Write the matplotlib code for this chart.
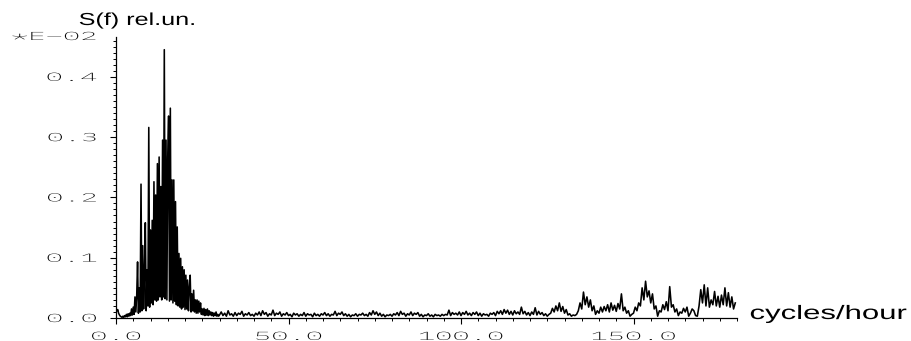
import numpy as np
import matplotlib
matplotlib.use('Agg')
import matplotlib.pyplot as plt
from matplotlib.patheffects import AbstractPathEffect
from matplotlib.transforms import Affine2D
from matplotlib.ticker import MultipleLocator

# Spectrum S(f), in units of 1E-02
# 0 - 30 cycles/hour, step 0.25
f_step_low = 0.25
s_low = [
    0.016, 0.012, 0.014, 0.008, 0.005, 0.003, 0.002, 0.001, 0.003, 0.001,
    0.004, 0.002, 0.006, 0.002, 0.007, 0.003, 0.008, 0.004, 0.015, 0.005,
    0.018, 0.006, 0.035, 0.010, 0.036, 0.093, 0.008, 0.050, 0.010, 0.222,
    0.012, 0.120, 0.015, 0.074, 0.158, 0.012, 0.080, 0.020, 0.316, 0.018,
    0.146, 0.025, 0.162, 0.022, 0.226, 0.030, 0.204, 0.028, 0.256, 0.030,
    0.267, 0.035, 0.218, 0.030, 0.295, 0.035, 0.445, 0.032, 0.295, 0.030,
    0.267, 0.335, 0.028, 0.348, 0.030, 0.229, 0.025, 0.229, 0.028, 0.193,
    0.022, 0.151, 0.020, 0.107, 0.018, 0.099, 0.015, 0.085, 0.018, 0.080,
    0.014, 0.071, 0.015, 0.063, 0.012, 0.050, 0.071, 0.010, 0.040, 0.012,
    0.046, 0.010, 0.030, 0.008, 0.030, 0.008, 0.028, 0.010, 0.025, 0.006,
    0.015, 0.005, 0.016, 0.004, 0.014, 0.005, 0.015, 0.004, 0.012, 0.005,
    0.010, 0.004, 0.009, 0.003, 0.008, 0.004, 0.010, 0.003, 0.006, 0.003,
]
# 30 - 180 cycles/hour, step 0.5
f_start_high = 30.0
f_step_high = 0.5
s_high = [
    0.005, 0.010, 0.004, 0.008, 0.003, 0.012, 0.005, 0.007, 0.003, 0.009,
    0.004, 0.008, 0.006, 0.011, 0.003, 0.007, 0.005, 0.009, 0.004, 0.006,
    0.003, 0.008, 0.005, 0.010, 0.004, 0.012, 0.006, 0.009, 0.003, 0.007,
    0.005, 0.013, 0.004, 0.008, 0.006, 0.010, 0.003, 0.007, 0.005, 0.009,
    0.004, 0.006, 0.002, 0.008, 0.005, 0.007, 0.003, 0.006, 0.004, 0.009,
    0.003, 0.007, 0.005, 0.006, 0.002, 0.008, 0.004, 0.006, 0.003, 0.007,
    0.005, 0.009, 0.004, 0.007, 0.003, 0.006, 0.005, 0.011, 0.004, 0.008,
    0.006, 0.010, 0.004, 0.007, 0.003, 0.006, 0.002, 0.005, 0.004, 0.007,
    0.003, 0.006, 0.005, 0.008, 0.004, 0.006, 0.003, 0.009, 0.005, 0.012,
    0.006, 0.010, 0.004, 0.008, 0.003, 0.006, 0.002, 0.005, 0.004, 0.006,
    0.003, 0.007, 0.005, 0.009, 0.004, 0.011, 0.006, 0.008, 0.003, 0.007,
    0.005, 0.010, 0.004, 0.008, 0.006, 0.009, 0.003, 0.006, 0.002, 0.005,
    0.004, 0.007, 0.003, 0.005, 0.002, 0.006, 0.004, 0.005, 0.003, 0.006,
    0.004, 0.006, 0.005, 0.013, 0.004, 0.009, 0.006, 0.008, 0.005, 0.010,
    0.004, 0.009, 0.006, 0.011, 0.005, 0.008, 0.004, 0.009, 0.006, 0.010,
    0.004, 0.008, 0.003, 0.007, 0.005, 0.006, 0.003, 0.008, 0.006, 0.009,
    0.004, 0.011, 0.007, 0.012, 0.006, 0.014, 0.008, 0.013, 0.006, 0.011,
    0.005, 0.012, 0.007, 0.010, 0.006, 0.018, 0.007, 0.011, 0.005, 0.009,
    0.004, 0.010, 0.006, 0.017, 0.005, 0.011, 0.006, 0.009, 0.004, 0.007,
    0.003, 0.006, 0.008, 0.016, 0.010, 0.020, 0.012, 0.025, 0.011, 0.019,
    0.008, 0.014, 0.005, 0.007, 0.003, 0.005, 0.004, 0.006, 0.012, 0.025,
    0.015, 0.043, 0.022, 0.035, 0.018, 0.030, 0.012, 0.020, 0.006, 0.012,
    0.008, 0.018, 0.010, 0.019, 0.012, 0.022, 0.010, 0.025, 0.013, 0.021,
    0.011, 0.024, 0.015, 0.040, 0.012, 0.018, 0.008, 0.012, 0.003, 0.006,
    0.008, 0.018, 0.012, 0.025, 0.020, 0.050, 0.030, 0.061, 0.035, 0.045,
    0.025, 0.040, 0.015, 0.020, 0.003, 0.012, 0.010, 0.022, 0.014, 0.027,
    0.012, 0.052, 0.018, 0.022, 0.010, 0.015, 0.004, 0.010, 0.008, 0.016,
    0.010, 0.018, 0.003, 0.008, 0.015, 0.012, 0.004, 0.003, 0.020, 0.047,
    0.025, 0.055, 0.020, 0.050, 0.018, 0.030, 0.022, 0.044, 0.020, 0.036,
    0.018, 0.038, 0.022, 0.050, 0.020, 0.042, 0.018, 0.035, 0.015, 0.025,
]

x_ticks = [0, 50, 100, 150]
x_labels = ['0.0', '50.0', '100.0', '150.0']
y_ticks = [0.0, 0.1, 0.2, 0.3, 0.4]
y_labels = ['0.0', '0.1', '0.2', '0.3', '0.4']

# thin monospace, stretched sideways, to look like the plotter's stroke font
tick_font = ['IBM Plex Mono', 'DejaVu Sans Mono']
tick_weight = 200


class Widen(AbstractPathEffect):
    """Stretch text sideways, the old plotter font is much wider than it is tall."""

    def __init__(self, sx, anchor='left'):
        super().__init__()
        self.sx = sx
        self.anchor = anchor

    def draw_path(self, renderer, gc, tpath, affine, rgbFace=None):
        bb = tpath.get_extents(affine)
        x0 = {'left': bb.x0, 'right': bb.x1, 'center': 0.5 * (bb.x0 + bb.x1)}[self.anchor]
        stretch = Affine2D().translate(-x0, 0).scale(self.sx, 1).translate(x0, 0)
        renderer.draw_path(gc, tpath, affine + stretch, rgbFace)


freq = np.concatenate([np.arange(len(s_low)) * f_step_low,
                       f_start_high + np.arange(len(s_high)) * f_step_high])
spec = np.concatenate([s_low, s_high])

fig = plt.figure(figsize=(9.12, 3.41), dpi=100)
ax = fig.add_axes([116 / 912, 23 / 341, 621 / 912, 281 / 341])

ax.plot(freq, spec, color='black', lw=1.15)

ax.set_xlim(0, 180)
ax.set_ylim(0, 0.466)
for side in ['top', 'right']:
    ax.spines[side].set_visible(False)
for side in ['left', 'bottom']:
    ax.spines[side].set_linewidth(0.9)

ax.set_xticks(x_ticks, x_labels)
ax.set_yticks(y_ticks, y_labels)
ax.xaxis.set_minor_locator(MultipleLocator(5))
ax.yaxis.set_minor_locator(MultipleLocator(0.01))
ax.tick_params(which='major', direction='out', length=4, width=0.8, labelsize=8.3)
ax.tick_params(which='minor', direction='out', length=2.2, width=0.7)
ax.tick_params(axis='x', which='major', pad=6)
ax.tick_params(axis='y', which='major', pad=10)

for lbl in ax.get_xticklabels():
    lbl.set_family(tick_font)
    lbl.set_fontweight(tick_weight)
    lbl.set_path_effects([Widen(2.5, 'center')])
for lbl in ax.get_yticklabels():
    lbl.set_family(tick_font)
    lbl.set_fontweight(tick_weight)
    lbl.set_path_effects([Widen(2.5, 'right')])

# exponent note at top of the y axis
fig.text(96 / 912, 1 - 37 / 341, '*E\u221202', ha='right', va='center',
         fontsize=8.3, family=tick_font, fontweight=tick_weight,
         path_effects=[Widen(2.5, 'right')])

# titles
fig.text(79 / 912, 1 - 25 / 341, 'S(f) rel.un.', ha='left', va='baseline',
         fontsize=12.5, family='Liberation Sans', path_effects=[Widen(1.45, 'left')])
fig.text(750 / 912, 22 / 341, 'cycles/hour', ha='left', va='baseline',
         fontsize=14, family='Liberation Sans', path_effects=[Widen(1.6, 'left')])

fig.savefig('out.png', dpi=100)
